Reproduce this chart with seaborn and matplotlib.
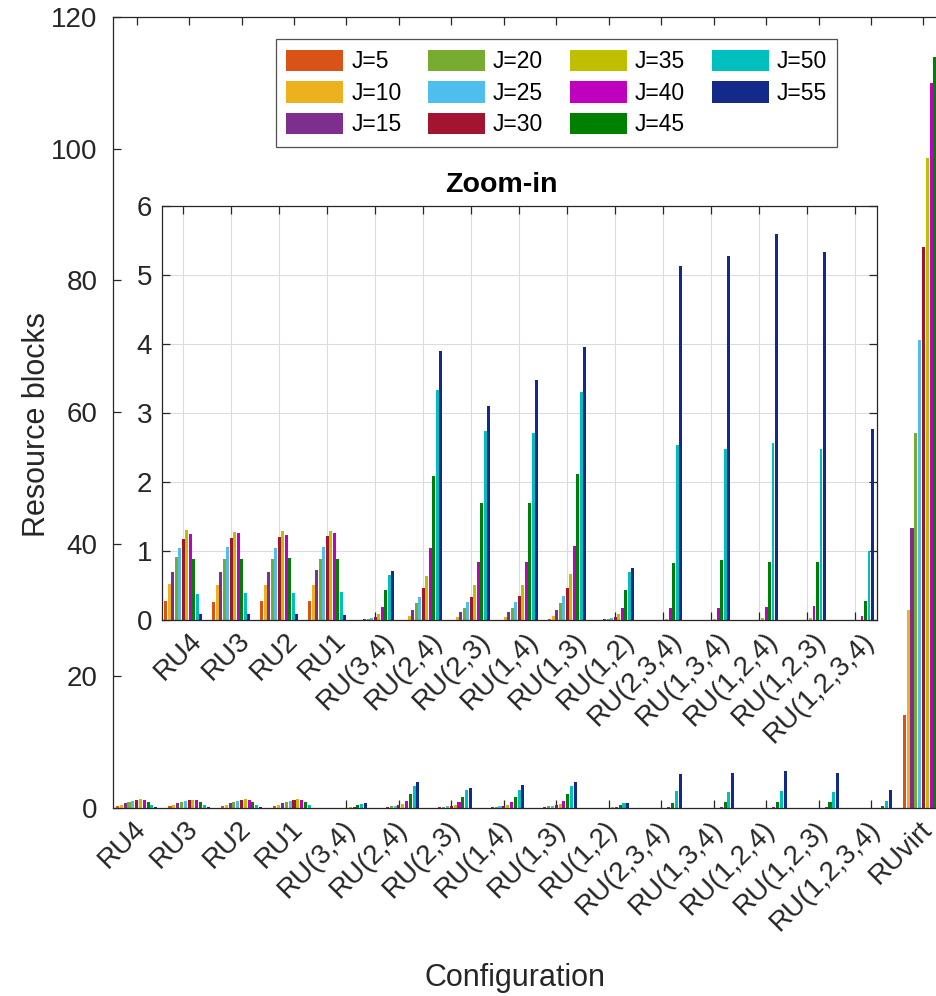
import numpy as np
import pandas as pd
import matplotlib
matplotlib.use("Agg")
import matplotlib.pyplot as plt
import matplotlib.transforms as mtransforms
from matplotlib.patches import Patch
import seaborn as sns

sns.set_theme(style="white")
plt.rcParams["font.family"] = ["Liberation Sans", "DejaVu Sans"]

configs = ["RU4", "RU3", "RU2", "RU1", "RU(3,4)", "RU(2,4)", "RU(2,3)", "RU(1,4)",
           "RU(1,3)", "RU(1,2)", "RU(2,3,4)", "RU(1,3,4)", "RU(1,2,4)", "RU(1,2,3)",
           "RU(1,2,3,4)", "RUvirt"]
j_labels = ["J=5", "J=10", "J=15", "J=20", "J=25", "J=30", "J=35", "J=40", "J=45", "J=50", "J=55"]

# resource blocks per configuration, one list per number of users J
rb_j5 = [0.28, 0.26, 0.27, 0.27, 0.0, 0.005, 0.005, 0.005, 0.01, 0.0, 0, 0, 0, 0, 0, 14.1]
rb_j10 = [0.52, 0.51, 0.51, 0.51, 0.005, 0.06, 0.05, 0.05, 0.06, 0.0, 0, 0, 0, 0, 0, 30.0]
rb_j15 = [0.70, 0.70, 0.70, 0.72, 0.01, 0.15, 0.11, 0.11, 0.15, 0.015, 0, 0, 0, 0, 0, 42.4]
rb_j20 = [0.91, 0.89, 0.88, 0.89, 0.02, 0.24, 0.17, 0.17, 0.24, 0.02, 0, 0, 0, 0, 0, 56.9]
rb_j25 = [1.04, 1.06, 1.04, 1.05, 0.03, 0.34, 0.26, 0.26, 0.35, 0.03, 0.005, 0.005, 0.005, 0.005, 0, 71.0]
rb_j30 = [1.17, 1.19, 1.20, 1.22, 0.05, 0.46, 0.34, 0.35, 0.46, 0.05, 0.005, 0.005, 0.005, 0.005, 0, 85.1]
rb_j35 = [1.31, 1.28, 1.29, 1.29, 0.09, 0.64, 0.50, 0.50, 0.66, 0.08, 0.015, 0.02, 0.03, 0.03, 0.005, 98.5]
rb_j40 = [1.25, 1.26, 1.23, 1.26, 0.19, 1.04, 0.84, 0.84, 1.07, 0.17, 0.17, 0.18, 0.19, 0.20, 0.06, 110.0]
rb_j45 = [0.88, 0.88, 0.90, 0.88, 0.43, 2.09, 1.69, 1.69, 2.12, 0.43, 0.83, 0.87, 0.84, 0.84, 0.27, 113.9]
rb_j50 = [0.38, 0.39, 0.39, 0.40, 0.65, 3.33, 2.74, 2.71, 3.30, 0.70, 2.53, 2.48, 2.56, 2.48, 1.00, np.nan]
rb_j55 = [0.09, 0.09, 0.09, 0.07, 0.71, 3.89, 3.10, 3.47, 3.95, 0.75, 5.13, 5.27, 5.59, 5.33, 2.77, np.nan]

colors = ["#D95319", "#EDB120", "#7E2F8E", "#77AC30", "#4DBEEE", "#A2142F",
          "#BFBF00", "#BF00BF", "#008000", "#00BFBF", "#142A8A"]

series = [rb_j5, rb_j10, rb_j15, rb_j20, rb_j25, rb_j30, rb_j35, rb_j40, rb_j45, rb_j50, rb_j55]
rows = []
for lab, vals in zip(j_labels, series):
    for cfg, v in zip(configs, vals):
        rows.append({"config": cfg, "J": lab, "rb": v})
df = pd.DataFrame(rows).dropna()
palette = dict(zip(j_labels, colors))

axis_col = "#262626"
tick_fs = 20

fig = plt.figure(figsize=(9.36, 9.96), dpi=100)
W, H = 936, 996


def px_axes(left, top, right, bottom):
    return fig.add_axes([left / W, 1 - bottom / H, (right - left) / W, (bottom - top) / H])


def style_axes(ax, ypad):
    for s in ax.spines.values():
        s.set_color(axis_col)
        s.set_linewidth(0.9)
    ax.tick_params(direction="in", length=6, width=0.9, color=axis_col,
                   top=True, right=True, bottom=True, left=True,
                   labelsize=tick_fs, labelcolor=axis_col)
    ax.tick_params(axis="y", pad=ypad)


def shift_xlabels(ax, dx, dy):
    offset = mtransforms.ScaledTranslation(dx / 100, dy / 100, fig.dpi_scale_trans)
    for lab in ax.get_xticklabels():
        lab.set_transform(lab.get_transform() + offset)


# main axes (right side is cut by the figure edge, like the original)
ax = px_axes(113, 16.7, 949.7, 808)
sns.barplot(data=df, x="config", y="rb", hue="J", order=configs, hue_order=j_labels,
            palette=palette, saturation=1, errorbar=None, width=0.8, gap=0.2,
            linewidth=0, legend=False, ax=ax)
ax.set_xlim(-0.45, 15.5)
ax.set_ylim(0, 120)
ax.set_yticks(np.arange(0, 121, 20))
style_axes(ax, 11)
ax.set_xticks(range(len(configs)))
ax.set_xticklabels(configs, rotation=45, ha="right", va="center", rotation_mode="anchor")
ax.tick_params(axis="x", pad=8)
shift_xlabels(ax, 5, -6)
ax.set_xlabel("Configuration", fontsize=22, color=axis_col)
ax.set_ylabel("Resource blocks", fontsize=22, color=axis_col)
ax.xaxis.set_label_coords(0.4805, -0.196)
ax.yaxis.set_label_coords(-0.073, 0.485)

handles = [Patch(facecolor=c, edgecolor="none") for c in colors]
leg = fig.legend(handles, j_labels, ncol=4, loc="upper left",
                 bbox_to_anchor=(275.5 / W, 1 - 39.3 / H), fontsize=16.5,
                 handlelength=2.5, handleheight=1.07, handletextpad=0.35,
                 columnspacing=1.15, labelspacing=0.35, borderpad=0.45,
                 borderaxespad=0, frameon=True, fancybox=False)
leg.get_frame().set_edgecolor(axis_col)
leg.get_frame().set_linewidth(0.9)
for t in leg.get_texts():
    t.set_color("black")

# zoom-in inset
configs_zoom = configs[:-1]
ins = px_axes(161.7, 205.7, 876.7, 620)
ins.set_facecolor("white")
sns.barplot(data=df[df["config"] != "RUvirt"], x="config", y="rb", hue="J",
            order=configs_zoom, hue_order=j_labels, palette=palette, saturation=1,
            errorbar=None, width=0.8, gap=0.2, linewidth=0, legend=False, ax=ins)
ins.set_xlim(-0.45, 14.45)
ins.set_ylim(0, 6)
ins.set_yticks(np.arange(0, 7, 1))
style_axes(ins, 7)
ins.set_xticks(range(len(configs_zoom)))
ins.set_xticklabels(configs_zoom, rotation=45, ha="right", va="center", rotation_mode="anchor")
ins.tick_params(axis="x", pad=12)
shift_xlabels(ins, 15, 0)
ins.set_axisbelow(True)
ins.grid(True, color="#DCDCDC", linewidth=0.8)
ins.set_xlabel("")
ins.set_ylabel("")
ins.set_title("Zoom-in", fontsize=20.5, fontweight="bold", color="black", pad=10, x=0.475)

fig.savefig("out.png", dpi=100)
